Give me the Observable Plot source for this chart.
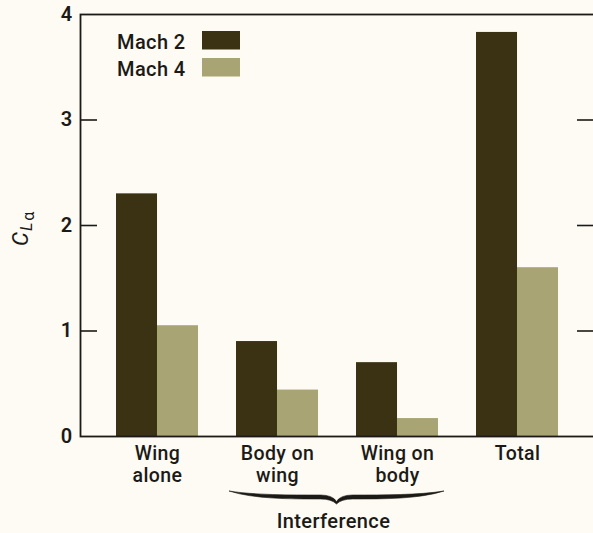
<!DOCTYPE html>
<html><head><meta charset="utf-8">
<script src="https://cdn.jsdelivr.net/npm/d3@7"></script>
<script src="https://cdn.jsdelivr.net/npm/@observablehq/plot@0.6"></script>
<style>
html,body{margin:0;padding:0;background:#fdfbf4;overflow:hidden;}
#chart{position:relative;width:600px;height:533px;}
</style></head><body><div id="chart"></div>
<script>
// ---- data ----
const groups = ["Wing alone", "Body on wing", "Wing on body", "Total"];
const groupLabels = ["Wing\nalone", "Body on\nwing", "Wing on\nbody", "Total"];
const series = ["Mach 2", "Mach 4"];
const mach2 = [2.30, 0.90, 0.70, 3.83];
const mach4 = [1.05, 0.44, 0.17, 1.60];
const yTicks = [0, 1, 2, 3, 4];
const innerTicks = [1, 2, 3];
const braceGroups = ["Body on wing", "Wing on body"];
const braceLabel = "Interference";

// ---- style ----
const ink = "#1c1a16", dark = "#3b3213", light = "#a8a473";
const W = 600, H = 533, mL = 80, mR = 6, mT = 14, mB = 97;
const padIn = 0.317, padOut = 0.3;
const plotW = W - mL - mR;
const step = plotW / (groups.length - padIn + 2 * padOut);
const halfBand = step * (1 - padIn) / 2;
const font = "Roboto, 'Liberation Sans', Arial, sans-serif";

const data = groups.map((g, i) => ({group: g, label: groupLabels[i], m2: mach2[i], m4: mach4[i]}));

const chart = Plot.plot({
  width: W, height: H,
  marginLeft: mL, marginRight: mR, marginTop: mT, marginBottom: mB,
  style: {background: "transparent", fontFamily: font, fontSize: "20px", fontWeight: 500, color: ink, letterSpacing: "0.4px"},
  x: {type: "band", domain: groups, paddingInner: padIn, paddingOuter: padOut, axis: null},
  y: {domain: [0, 4]},
  marks: [
    Plot.barY(data, {x: "group", y: "m2", fill: dark, insetRight: halfBand}),
    Plot.barY(data, {x: "group", y: "m4", fill: light, insetLeft: halfBand}),
    Plot.ruleY(innerTicks, {y: d => d, stroke: ink, strokeWidth: 1.6, insetRight: plotW - 17}),
    Plot.ruleY(innerTicks, {y: d => d, stroke: ink, strokeWidth: 1.6, insetLeft: plotW - 17}),
    Plot.axisY(yTicks, {anchor: "left", tickSize: 0, tickPadding: 8, label: null, fontSize: 20, fontWeight: 600, tickFormat: d => String(d)}),
    Plot.text(data, {x: "group", text: "label", frameAnchor: "bottom", lineAnchor: "top", dy: 9, fontSize: 19.5, lineHeight: 1.08, fill: ink}),
    Plot.frame({stroke: ink, strokeWidth: 1.8})
  ]
});
document.getElementById("chart").appendChild(chart);

// ---- decorations through the plot's scales ----
const xs = chart.scale("x"), ys = chart.scale("y");
const svg = d3.select(chart);
const y0 = ys.apply(0);

// brace
const bx0 = xs.apply(braceGroups[0]) - 7;
const bx1 = xs.apply(braceGroups[1]) + xs.bandwidth + 6;
const bxm = (bx0 + bx1) / 2;
const yEnd = y0 + 55, ySh = y0 + 61, yTip = y0 + 68;
const t = 2; // half thickness at shoulder
const bp = d3.path();
bp.moveTo(bx0, yEnd);
bp.bezierCurveTo(bx0 + 25, ySh - t, bx0 + 60, ySh - t, bxm - 16, ySh - t);
bp.quadraticCurveTo(bxm - 4, ySh - t, bxm, yTip - 2.5);
bp.quadraticCurveTo(bxm + 4, ySh - t, bxm + 16, ySh - t);
bp.bezierCurveTo(bx1 - 60, ySh - t, bx1 - 25, ySh - t, bx1, yEnd);
bp.bezierCurveTo(bx1 - 25, ySh + t, bx1 - 60, ySh + t, bxm + 16, ySh + t);
bp.quadraticCurveTo(bxm + 5, ySh + t, bxm, yTip);
bp.quadraticCurveTo(bxm - 5, ySh + t, bxm - 16, ySh + t);
bp.bezierCurveTo(bx0 + 60, ySh + t, bx0 + 25, ySh + t, bx0, yEnd);
bp.closePath();
svg.append("path").attr("d", bp.toString()).attr("fill", ink).attr("stroke", ink).attr("stroke-width", 0.6);
svg.append("text").attr("x", bxm - 3).attr("y", y0 + 92).attr("text-anchor", "middle")
  .attr("font-size", 20).attr("font-weight", 500).attr("fill", ink).text(braceLabel);

// legend
const lg = svg.append("g").attr("text-anchor", "start");
series.forEach((s, i) => {
  const yb = mT + 34.5 + i * 27;
  lg.append("text").attr("x", mL + 37).attr("y", yb).attr("font-size", 20)
    .attr("font-weight", 500).attr("fill", ink).text(s);
  lg.append("rect").attr("x", mL + 122).attr("y", yb - 17.5).attr("width", 38).attr("height", 18.5)
    .attr("fill", i === 0 ? dark : light);
});

// y label  C_{L alpha}
const yl = svg.append("text").attr("transform", `translate(28,${ys.apply(2) + 21}) rotate(-90)`)
  .attr("text-anchor", "start").attr("fill", ink).attr("font-weight", 400)
  .attr("font-family", font).attr("letter-spacing", "0px");
yl.append("tspan").attr("font-style", "italic").attr("font-size", 22).text("C");
yl.append("tspan").attr("font-style", "italic").attr("font-size", 16).attr("dy", 4).attr("dx", 1).text("L");
yl.append("tspan").attr("font-size", 16).attr("dy", 2).attr("dx", 2).text("α");
</script>
</body></html>
